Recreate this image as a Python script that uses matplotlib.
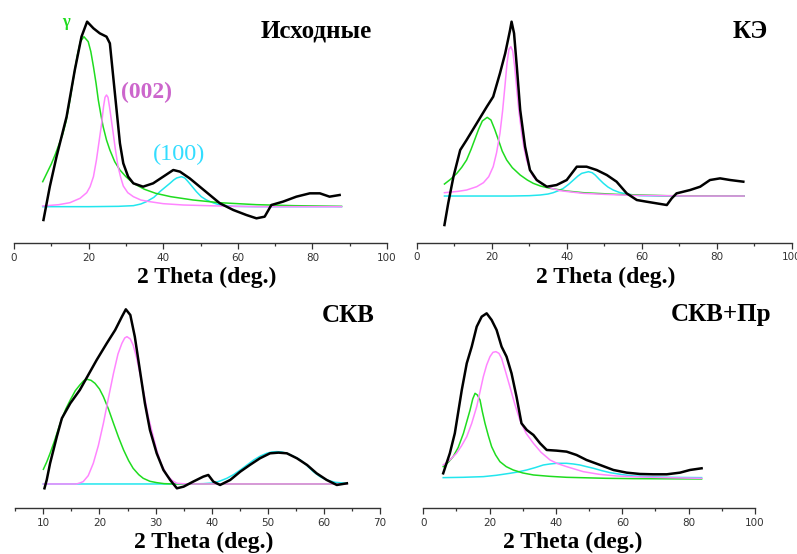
import matplotlib
matplotlib.use("Agg")
import matplotlib.pyplot as plt
from matplotlib.ticker import MultipleLocator

# ---- Исходные ----
ish_x = [7.9, 9.6, 11.4, 14.1, 16.3, 18.1, 19.6, 21.3, 23.0, 24.8, 25.7, 26.6, 27.5, 28.4,
         29.3, 30.6, 32.0, 34.6, 37.3, 40.0, 42.7, 44.5, 47.1, 49.8, 52.5, 55.2, 58.8,
         62.3, 65.0, 67.2, 69.0, 72.1, 75.7, 79.3, 82.0, 84.6, 87.3]
ish_y = [-40, 60, 150, 270, 410, 510, 555, 535, 520, 510, 490, 390, 290, 190,
         130, 90, 70, 60, 70, 90, 110, 105, 85, 60, 35, 10, -10,
         -25, -35, -30, 5, 15, 30, 40, 40, 30, 35]
ish_g_x = [7.7, 9.0, 10.0, 11.0, 12.0, 13.0, 14.0, 15.0, 16.0, 17.0, 17.8, 18.75, 19.9,
           20.6, 21.3, 22.0, 22.6, 23.3, 23.9, 24.8, 25.7, 27.0, 28.4, 30.0, 32.0, 35.0,
           38.0, 42.0, 48.0, 55.0, 65.0, 75.0, 87.8]
ish_g_y = [75, 105, 128, 155, 185, 215, 258, 320, 390, 455, 495, 510, 495,
           465, 420, 370, 320, 275, 240, 200, 170, 135, 110, 90, 70, 52,
           40, 30, 20, 12, 6, 3, 1]
ish_m_x = [7.7, 12.0, 15.0, 17.7, 19.5, 20.4, 21.3, 22.1, 22.8, 23.5, 24.0, 24.4, 24.8,
           25.2, 25.6, 26.1, 26.6, 27.2, 27.9, 28.6, 29.3, 30.5, 32.0, 34.0, 36.4, 40.0,
           45.4, 55.0, 65.0, 87.8]
ish_m_y = [2, 6, 12, 25, 42, 60, 90, 140, 195, 250, 300, 328, 335,
           328, 300, 260, 220, 170, 120, 88, 62, 42, 30, 20, 15, 9,
           5, 2, 0, 0]
ish_c_x = [7.7, 20.0, 28.0, 32.0, 34.0, 35.5, 37.5, 39.1, 40.5, 41.8, 42.8, 43.6, 44.9,
           45.8, 46.6, 47.8, 48.9, 50.2, 51.6, 53.5, 55.2, 58.8, 65.0, 87.8]
ish_c_y = [0, 0, 1, 3, 8, 15, 28, 45, 58, 70, 80, 86, 90,
           86, 76, 60, 45, 30, 20, 11, 5, 1, 0, 0]

# ---- КЭ ----
ke_x = [7.4, 8.4, 9.8, 11.6, 13.3, 16.0, 18.7, 20.4, 22.2, 23.6, 24.9, 25.3, 25.96, 26.7,
        27.6, 28.9, 30.2, 32.0, 34.7, 37.3, 40.0, 42.7, 45.3, 48.0, 50.7, 53.3, 56.0,
        58.7, 61.3, 64.0, 66.7, 68.0, 69.3, 72.9, 75.6, 78.2, 80.9, 83.6, 87.1]
ke_y = [-87, -22, 58, 138, 168, 218, 268, 298, 368, 428, 498, 523, 488, 388,
        258, 148, 78, 48, 28, 33, 48, 88, 88, 78, 63, 43, 8,
        -12, -17, -22, -27, -7, 8, 18, 28, 48, 53, 48, 43]
ke_g_x = [7.4, 9.0, 10.7, 12.0, 13.3, 14.5, 15.5, 16.5, 17.5, 18.8, 19.8, 20.8, 21.8,
          22.8, 24.0, 25.5, 27.6, 29.5, 31.1, 33.0, 35.6, 40.0, 44.4, 53.3, 66.7, 87.3]
ke_g_y = [36, 50, 68, 86, 108, 140, 170, 200, 225, 236, 228, 200, 168,
          135, 108, 85, 63, 48, 38, 30, 23, 15, 10, 5, 1, 0]
ke_m_x = [7.4, 11.0, 13.3, 16.0, 17.8, 19.2, 20.4, 21.3, 22.2, 22.9, 23.6, 24.1, 24.6,
          25.1, 25.6, 26.1, 26.7, 27.3, 28.0, 28.6, 29.3, 30.2, 31.1, 32.4, 33.8, 36.0,
          38.2, 44.4, 50.0, 57.8, 72.9, 87.3]
ke_m_y = [10, 14, 18, 28, 40, 58, 88, 130, 188, 255, 338, 400, 440,
          448, 435, 390, 318, 250, 188, 145, 108, 78, 58, 43, 33, 23,
          16, 8, 5, 2, 0, 0]
ke_c_x = [7.4, 25.0, 30.0, 32.9, 35.0, 36.4, 37.8, 39.1, 40.5, 41.8, 43.0, 44.0, 45.8,
          46.8, 47.6, 48.7, 49.8, 51.0, 52.4, 54.0, 56.0, 59.6, 65.0, 87.3]
ke_c_y = [0, 0, 1, 3, 6, 10, 16, 23, 35, 48, 60, 68, 73,
          70, 63, 50, 38, 27, 18, 11, 6, 1, 0, 0]

# ---- СКВ ----
skv_x = [10.2, 10.6, 11.2, 12.4, 13.3, 14.8, 16.5, 18.0, 19.5, 21.3, 22.8, 24.0, 24.7,
         25.5, 26.3, 27.2, 28.1, 29.0, 30.2, 31.4, 32.6, 33.8, 35.0, 36.7, 38.5, 39.4,
         40.3, 41.5, 43.3, 45.1, 46.8, 48.6, 50.4, 51.9, 53.4, 55.2, 57.0, 58.7, 60.5,
         62.3, 64.1]
skv_y = [-13, 12, 62, 142, 197, 242, 282, 327, 372, 422, 462, 502, 524,
         507, 442, 342, 242, 162, 92, 42, 12, -13, -8, 7, 22, 27,
         7, -3, 12, 37, 57, 77, 92, 94, 92, 77, 57, 32, 12,
         -3, 2]
skv_g_x = [10.0, 10.6, 11.2, 12.0, 13.0, 14.0, 14.8, 15.7, 16.5, 17.2, 17.8, 18.5, 19.2,
           20.0, 20.7, 21.6, 22.5, 23.4, 24.3, 25.2, 26.0, 27.0, 27.8, 29.0, 30.2, 31.5,
           33.2, 64.1]
skv_g_y = [44, 66, 92, 130, 182, 225, 252, 280, 297, 310, 314, 311, 302,
           285, 262, 225, 182, 140, 102, 70, 47, 28, 17, 8, 4, 1,
           0, 0]
skv_m_x = [10.0, 15.9, 16.5, 17.1, 18.0, 18.9, 19.8, 20.7, 21.6, 22.5, 23.3, 24.0, 24.5,
           24.9, 25.5, 26.0, 26.6, 27.2, 28.0, 28.7, 29.5, 30.2, 31.0, 32.0, 33.0, 33.8,
           35.6, 64.1]
skv_m_y = [0, 0, 3, 7, 25, 62, 115, 182, 258, 332, 390, 422, 438,
           442, 435, 417, 380, 332, 265, 202, 148, 102, 60, 27, 10, 2,
           0, 0]
skv_c_x = [10.0, 36.0, 38.5, 40.3, 41.5, 42.7, 43.9, 45.1, 46.3, 47.5, 48.7, 49.8, 50.7,
           51.6, 52.5, 53.4, 54.6, 55.8, 57.0, 58.1, 59.3, 60.5, 62.0, 64.1]
skv_c_y = [0, 0, 1, 3, 9, 17, 28, 42, 57, 72, 84, 92, 96,
           97, 96, 92, 83, 72, 55, 37, 22, 12, 5, 2]

# ---- СКВ+Пр ----
pr_x = [6.0, 7.0, 8.0, 9.5, 11.6, 13.1, 14.6, 16.1, 17.6, 19.1, 20.6, 22.1, 23.6, 25.1,
        26.6, 28.1, 29.6, 31.2, 33.2, 35.2, 37.2, 40.2, 43.2, 46.2, 49.2, 53.3, 57.3,
        61.3, 65.3, 69.3, 73.4, 77.4, 80.4, 83.9]
pr_y = [15, 45, 75, 135, 265, 345, 395, 455, 485, 495, 475, 445, 395, 365,
        315, 245, 165, 145, 130, 105, 85, 83, 80, 70, 55, 40, 25,
        17, 13, 12, 12, 17, 25, 30]
pr_g_x = [6.0, 7.5, 9.0, 10.5, 12.1, 13.1, 14.1, 14.9, 15.6, 16.3, 17.1, 17.8, 18.6,
          19.6, 20.6, 21.8, 23.1, 25.0, 27.1, 30.0, 33.2, 38.0, 43.2, 55.0, 63.3, 83.9]
pr_g_y = [35, 48, 65, 92, 135, 170, 205, 238, 255, 250, 235, 200, 165,
          128, 95, 70, 50, 35, 25, 16, 10, 6, 3, 0, -1, -2]
pr_m_x = [6.0, 8.0, 10.0, 11.5, 13.1, 14.6, 16.1, 17.1, 18.1, 19.1, 20.1, 21.0, 21.9,
          22.8, 23.6, 24.8, 26.1, 27.6, 29.1, 31.0, 33.2, 35.5, 38.2, 40.5, 43.2, 48.2,
          53.0, 58.3, 65.0, 73.4, 83.9]
pr_m_y = [40, 55, 75, 97, 125, 165, 215, 260, 305, 340, 365, 378, 380,
          375, 360, 320, 275, 222, 175, 135, 105, 78, 55, 44, 35, 20,
          12, 7, 4, 2, 0]
pr_c_x = [6.0, 12.0, 18.1, 22.0, 26.1, 28.5, 31.2, 33.7, 36.2, 38.2, 40.2, 43.2, 45.2,
          47.2, 49.2, 51.3, 53.8, 56.3, 60.0, 63.3, 68.0, 73.4, 83.9]
pr_c_y = [2, 3, 5, 9, 15, 19, 25, 32, 40, 43, 45, 45, 43,
          40, 35, 30, 23, 17, 11, 7, 5, 3, 2]

GREEN = "#1fdc1f"
PINK = "#ff85ff"
CYAN = "#22e6ee"
SERIF = ["Liberation Serif", "DejaVu Serif"]

W, H = 797, 554
fig = plt.figure(figsize=(W / 100, H / 100), dpi=100)


def make_axes(left_px, right_px, top_px, bottom_px):
    return fig.add_axes([left_px / W, 1 - bottom_px / H,
                         (right_px - left_px) / W, (bottom_px - top_px) / H])


panels = [
    dict(box=(14, 387, 10, 243), xlim=(0, 100), ylim=(-109, 590), major=20, minor=10,
         black=(ish_x, ish_y), g=(ish_g_x, ish_g_y), m=(ish_m_x, ish_m_y), c=(ish_c_x, ish_c_y),
         title="Исходные", title_xy=(372, 31), xlab_xy=(207, 283)),
    dict(box=(416.7, 791.7, 10, 242.7), xlim=(0, 100), ylim=(-140, 558), major=20, minor=10,
         black=(ke_x, ke_y), g=(ke_g_x, ke_g_y), m=(ke_m_x, ke_m_y), c=(ke_c_x, ke_c_y),
         title="КЭ", title_xy=(768, 32), xlab_xy=(606, 283)),
    dict(box=(15.3, 380, 300, 508.3), xlim=(5, 70), ylim=(-73, 552), major=10, minor=5,
         black=(skv_x, skv_y), g=(skv_g_x, skv_g_y), m=(skv_m_x, skv_m_y), c=(skv_c_x, skv_c_y),
         title="СКВ", title_xy=(375, 315), xlab_xy=(204, 548)),
    dict(box=(423.3, 755, 300, 508.3), xlim=(0, 100), ylim=(-90, 535), major=20, minor=10,
         black=(pr_x, pr_y), g=(pr_g_x, pr_g_y), m=(pr_m_x, pr_m_y), c=(pr_c_x, pr_c_y),
         title="СКВ+Пр", title_xy=(771, 315), xlab_xy=(573, 548)),
]

for p in panels:
    ax = make_axes(*p["box"])
    ax.set_xlim(*p["xlim"])
    ax.set_ylim(*p["ylim"])
    ax.patch.set_alpha(0)
    for side in ("left", "top", "right"):
        ax.spines[side].set_visible(False)
    ax.spines["bottom"].set_color("#333333")
    ax.spines["bottom"].set_linewidth(1.0)
    ax.set_yticks([])
    ax.xaxis.set_major_locator(MultipleLocator(p["major"]))
    ax.xaxis.set_minor_locator(MultipleLocator(p["minor"]))
    ax.tick_params(axis="x", which="major", direction="out", length=4, width=0.9,
                   color="#333333", labelsize=7.5, labelcolor="#333333", pad=3)
    ax.tick_params(axis="x", which="minor", direction="out", length=2, width=0.9,
                   color="#333333")

    ax.plot(*p["c"], color=CYAN, lw=1.1, zorder=2)
    ax.plot(*p["g"], color=GREEN, lw=1.1, zorder=3)
    ax.plot(*p["m"], color=PINK, lw=1.1, zorder=3)
    ax.plot(*p["black"], color="black", lw=1.8, zorder=4)

    tx, ty = p["title_xy"]
    fig.text(tx / W, 1 - ty / H, p["title"], ha="right", va="center",
             fontsize=18, fontweight="bold", family=SERIF)
    lx, ly = p["xlab_xy"]
    fig.text(lx / W, 1 - ly / H, "2 Theta (deg.)", ha="center", va="baseline",
             fontsize=17, fontweight="bold", family=SERIF)

fig.text(66 / W, 1 - 22 / H, "γ", ha="center", va="center", color=GREEN,
         fontsize=12, fontweight="bold", family=SERIF)
fig.text(147 / W, 1 - 92 / H, "(002)", ha="center", va="center", color="#cc66cc",
         fontsize=17, fontweight="bold", family=SERIF)
fig.text(179 / W, 1 - 154 / H, "(100)", ha="center", va="center", color="#33ddff",
         fontsize=17.5, family=SERIF)

fig.savefig("out.png", dpi=100)
